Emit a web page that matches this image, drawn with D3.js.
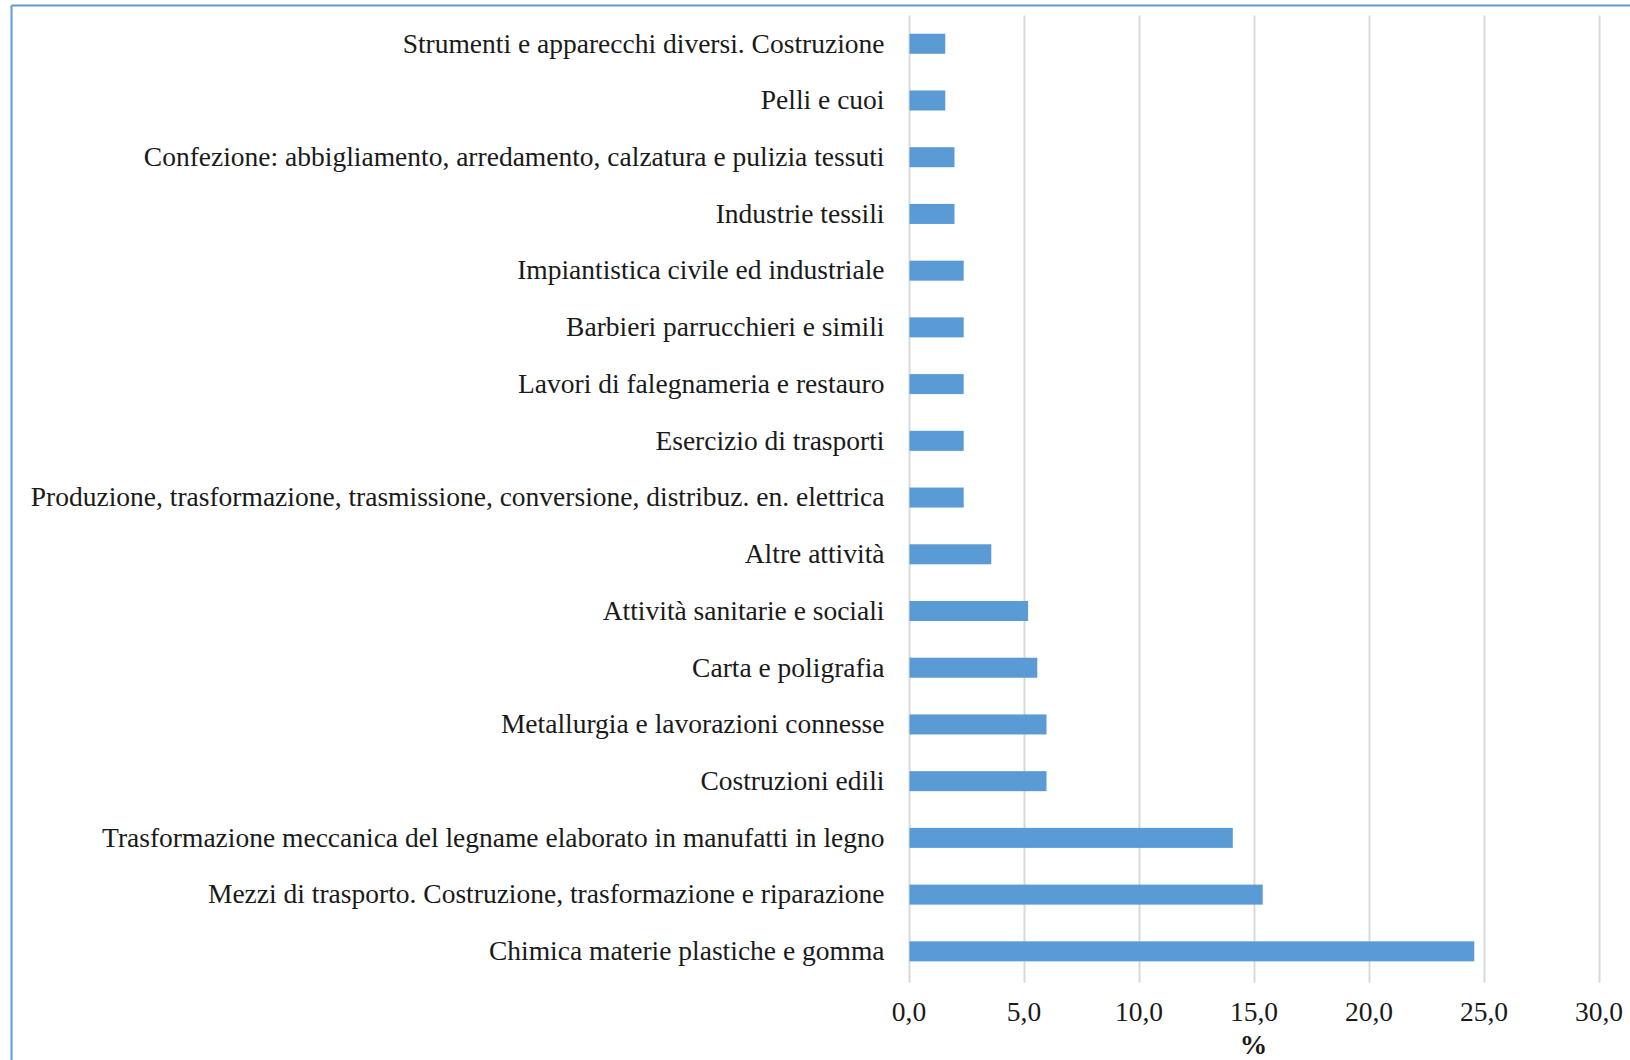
<!DOCTYPE html>
<html>
<head>
<meta charset="utf-8">
<script src="https://cdn.jsdelivr.net/npm/d3@7"></script>
<style>
  html, body { margin: 0; padding: 0; background: #ffffff; }
  svg { display: block; }
</style>
</head>
<body>
<svg id="chart" width="1630" height="1060"></svg>
<script>
// Sectors (top to bottom) and their share in %
const categories = [
  "Strumenti e apparecchi diversi. Costruzione",
  "Pelli e cuoi",
  "Confezione: abbigliamento, arredamento, calzatura e pulizia tessuti",
  "Industrie tessili",
  "Impiantistica civile ed industriale",
  "Barbieri parrucchieri e simili",
  "Lavori di falegnameria e restauro",
  "Esercizio di trasporti",
  "Produzione, trasformazione, trasmissione, conversione, distribuz. en. elettrica",
  "Altre attività",
  "Attività sanitarie e sociali",
  "Carta e poligrafia",
  "Metallurgia e lavorazioni connesse",
  "Costruzioni edili",
  "Trasformazione meccanica del legname elaborato in manufatti in legno",
  "Mezzi di trasporto. Costruzione, trasformazione e riparazione",
  "Chimica materie plastiche e gomma"
];
const values = [1.6, 1.6, 2.0, 2.0, 2.4, 2.4, 2.4, 2.4, 2.4, 3.6, 5.2, 5.6, 6.0, 6.0, 14.1, 15.4, 24.6];
const xTicks = [0, 5, 10, 15, 20, 25, 30];
const xTitle = "%";

const svg = d3.select("#chart");
const font = "'Liberation Serif', 'Times New Roman', serif";
const fontSize = 27.5;

// frame (top and left edges visible)
svg.append("line").attr("x1", 11.5).attr("x2", 1640).attr("y1", 5.5).attr("y2", 5.5)
  .attr("stroke", "#5b9bd5").attr("stroke-width", 2);
svg.append("line").attr("x1", 11.5).attr("x2", 11.5).attr("y1", 5.5).attr("y2", 1070)
  .attr("stroke", "#5b9bd5").attr("stroke-width", 2);

const plot = { left: 908.5, right: 1598.5, top: 15.4, bottom: 979.7 };

const x = d3.scaleLinear().domain([0, 30]).range([plot.left, plot.right]);
const y = d3.scaleBand().domain(categories).range([plot.top, plot.bottom]).paddingInner(0.647).paddingOuter(0.3235);

// vertical gridlines
svg.append("g").selectAll("line").data(xTicks).join("line")
  .attr("x1", d => Math.round(x(d)) + 0.5).attr("x2", d => Math.round(x(d)) + 0.5)
  .attr("y1", plot.top).attr("y2", plot.bottom + 3)
  .attr("stroke", "#d9d9d9").attr("stroke-width", 2);

// bars
svg.append("g").selectAll("rect").data(categories).join("rect")
  .attr("x", x(0) + 1)
  .attr("y", d => y(d))
  .attr("width", (d, i) => x(values[i]) - x(0) - 1)
  .attr("height", y.bandwidth())
  .attr("fill", "#5b9bd5");

// category labels
const yAxis = svg.append("g")
  .attr("transform", `translate(${plot.left - 24},0)`)
  .call(d3.axisLeft(y).tickSize(0).tickPadding(0));
yAxis.select(".domain").remove();
yAxis.selectAll("text")
  .attr("font-family", font).attr("font-size", fontSize).attr("fill", "#1a1a1a")
  .attr("dy", "0.32em");

// value axis tick labels
const fmt = v => d3.format(".1f")(v).replace(".", ",");
const xAxis = svg.append("g")
  .attr("transform", `translate(0,${plot.bottom})`)
  .call(d3.axisBottom(x).tickValues(xTicks).tickFormat(fmt).tickSize(0).tickPadding(0));
xAxis.select(".domain").remove();
xAxis.selectAll("text")
  .attr("font-family", font).attr("font-size", fontSize).attr("fill", "#1a1a1a")
  .attr("dy", null).attr("y", 41);

// axis title
svg.append("text")
  .attr("x", (plot.left + plot.right) / 2).attr("y", 1054)
  .attr("text-anchor", "middle")
  .attr("font-family", font).attr("font-size", fontSize).attr("font-weight", "bold").attr("fill", "#1a1a1a")
  .text(xTitle);
</script>
</body>
</html>
